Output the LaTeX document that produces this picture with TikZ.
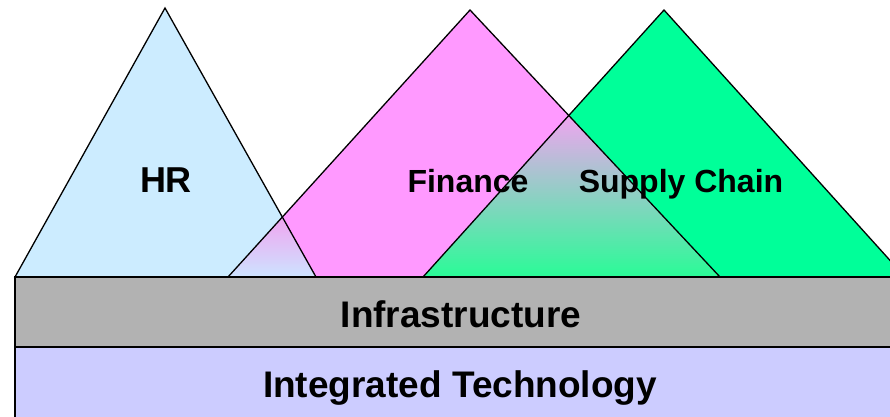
\documentclass[tikz,border=0pt]{standalone}
\usepackage{fontspec}
\setmainfont{Liberation Sans}
\definecolor{hrc}{RGB}{204,236,255}
\definecolor{finc}{RGB}{255,153,255}
\definecolor{scc}{RGB}{0,255,153}
\definecolor{infc}{RGB}{178,178,178}
\definecolor{itc}{RGB}{204,204,255}
\definecolor{ovpink}{RGB}{240,165,240}
\definecolor{ovblue}{RGB}{204,228,255}
\definecolor{ovmid}{RGB}{198,218,226}
\definecolor{ovgreen}{RGB}{40,252,150}
\tikzset{
  edge/.style={draw=black, line width=1.3pt, line join=miter},
  toplabel/.style={font=\bfseries\fontsize{32}{38}\selectfont, anchor=base, inner sep=0pt},
  hrlabel/.style={font=\bfseries\fontsize{36}{40}\selectfont, anchor=base, inner sep=0pt},
  bandlabel/.style={font=\bfseries\fontsize{37}{42}\selectfont, anchor=base, inner sep=0pt}
}
\begin{document}
\begin{tikzpicture}[x=1pt,y=-1pt]
\useasboundingbox (0,0) rectangle (890,416);
\clip (0,0) rectangle (890,416);
% triangle corners
\coordinate (hrA) at (165,8);   \coordinate (hrL) at (15,277);  \coordinate (hrR) at (316,277);
\coordinate (fA) at (470,10);   \coordinate (fL) at (228,277);  \coordinate (fR) at (720,277);
\coordinate (sA) at (664,10);   \coordinate (sL) at (423,277);  \coordinate (sR) at (905,277);
% fills
\fill[hrc] (hrA) -- (hrL) -- (hrR) -- cycle;
\fill[finc] (fA) -- (fL) -- (fR) -- cycle;
\fill[scc] (sA) -- (sL) -- (sR) -- cycle;
% overlap HR & Finance
\begin{scope}
  \clip (hrA) -- (hrL) -- (hrR) -- cycle;
  \clip (fA) -- (fL) -- (fR) -- cycle;
  \fill[top color=ovpink, bottom color=ovblue] (200,217) rectangle (340,278);
\end{scope}
% overlap Finance & Supply Chain
\begin{scope}
  \clip (fA) -- (fL) -- (fR) -- cycle;
  \clip (sA) -- (sL) -- (sR) -- cycle;
  \fill[top color=ovpink, middle color=ovmid, bottom color=ovgreen] (400,115) rectangle (740,278);
\end{scope}
% outlines
\draw[edge] (hrA) -- (hrL) -- (hrR) -- cycle;
\draw[edge] (fA) -- (fL) -- (fR) -- cycle;
\draw[edge] (sA) -- (sL) -- (sR) -- cycle;
% bands
\draw[edge, fill=infc] (15,277) rectangle (912,347);
\draw[edge, fill=itc] (15,347) rectangle (912,422);
% labels
\node[hrlabel] (hr) at (166,192) {HR};
\node[toplabel] (fin) at (468,192) {Finance};
\node[toplabel] (sc) at (681,192) {Supply Chain};
\node[bandlabel] (inf) at (461,327) {Infrastructure};
\node[bandlabel] (it) at (460,397) {Integrated Technology};
\end{tikzpicture}
\end{document}
